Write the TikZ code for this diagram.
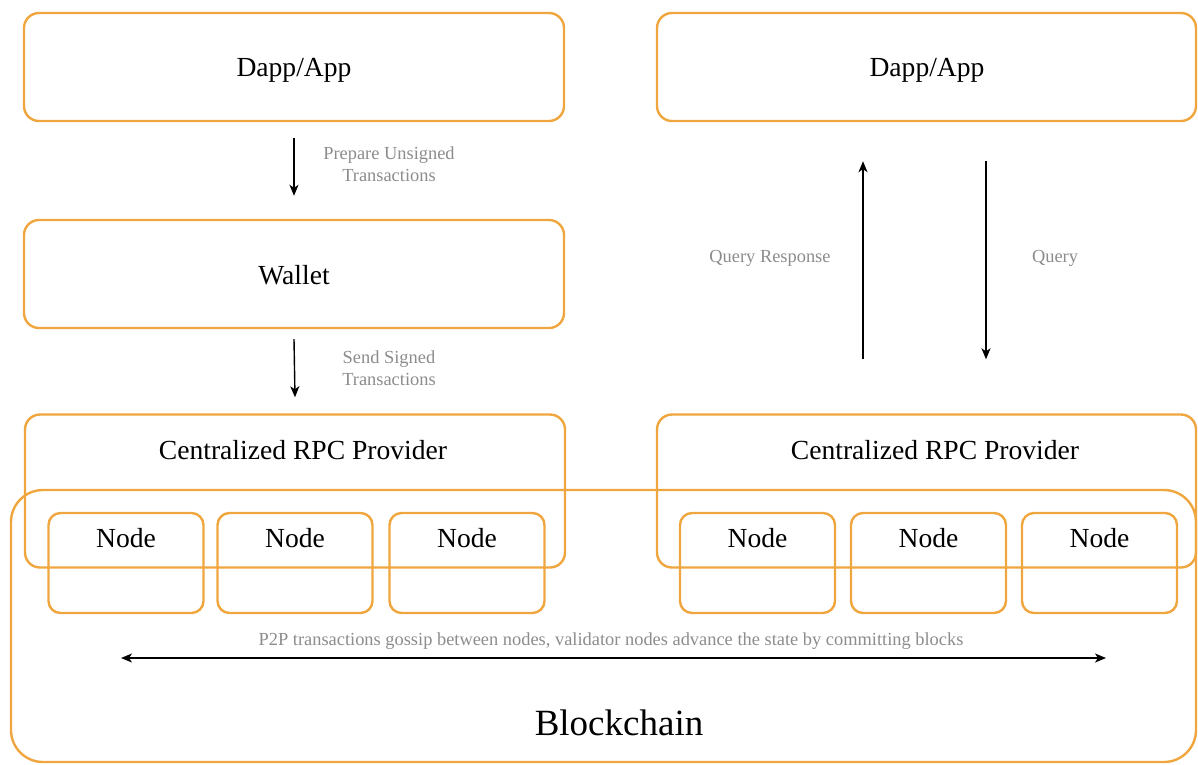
\documentclass[tikz,border=0pt]{standalone}
\usepackage{fontspec}
\setmainfont{Liberation Serif}
\usepackage{xcolor}
\usetikzlibrary{arrows.meta,positioning,calc}
\definecolor{boxorange}{RGB}{240,166,62}
\definecolor{labelgray}{RGB}{140,140,140}

\begin{document}
\begin{tikzpicture}[
    x=1pt, y=-1pt,
    >={Stealth[length=11pt,width=9pt,inset=3pt]},
    box/.style={draw=boxorange, line width=2.4pt, rounded corners=15pt, inner sep=0pt},
    nodebox/.style={draw=boxorange, line width=2.4pt, rounded corners=12pt, inner sep=0pt, minimum width=155pt, minimum height=100pt},
    boxtext/.style={font=\fontsize{27.6}{32}\selectfont},
    note/.style={font=\fontsize{18.4}{22.5}\selectfont, text=labelgray, align=center},
    flow/.style={line width=1.4pt, ->}
]
\useasboundingbox (0,0) rectangle (1198,764);

% left column
\node[box, minimum width=540pt, minimum height=108pt] (dappL) at (294,67) {};
\node[boxtext] (dappLtxt) at (294,70) {Dapp/App};
\node[box, minimum width=540pt, minimum height=108pt] (wallet) at (294,274) {};
\node[boxtext] (wallettxt) at (294,275) {Wallet};
\node[box, minimum width=540pt, minimum height=153pt] (rpcL) at (295,491) {};
\node[boxtext] (rpcLtxt) at (303,450) {Centralized RPC Provider};

% right column
\node[box, minimum width=539pt, minimum height=108pt] (dappR) at (926.5,67) {};
\node[boxtext] (dappRtxt) at (927,70) {Dapp/App};
\node[box, minimum width=539pt, minimum height=153pt] (rpcR) at (926.5,491) {};
\node[boxtext] (rpcRtxt) at (935,450) {Centralized RPC Provider};

% blockchain
\node[box, rounded corners=32pt, minimum width=1185pt, minimum height=272pt] (chain) at (603.5,626) {};
\node[font=\fontsize{37}{42}\selectfont] (chaintxt) at (619,723) {Blockchain};

% nodes
\foreach \name/\x in {n1/126, n2/295, n3/467, n4/757.5, n5/928.5, n6/1099.5} {
    \node[nodebox] (\name) at (\x,563) {};
    \node[boxtext] (\name txt) at (\x,538) {Node};
}

% transactions
\draw[flow] ([yshift=-16pt]dappL.south) -- ([yshift=23pt]wallet.north);
\node[note] (prep) at (389,164) {Prepare Unsigned\\Transactions};
\draw[flow] ([yshift=-10pt]wallet.south) -- ([yshift=16pt]rpcL.north);
\node[note] (send) at (389,368) {Send Signed\\Transactions};

% queries
\draw[flow] ([xshift=-63.5pt,yshift=54pt]rpcR.north) -- ([xshift=-63.5pt,yshift=-39pt]dappR.south);
\node[note] (resp) at (770,258) {Query Response};
\draw[flow] ([xshift=59.5pt,yshift=-39pt]dappR.south) -- ([xshift=59.5pt,yshift=54pt]rpcR.north);
\node[note] (query) at (1055,258) {Query};

% gossip
\coordinate (p2pL) at (121,658);
\coordinate (p2pR) at (1106,658);
\draw[line width=1.4pt, <->] (p2pL) -- (p2pR);
\node[note] (gossip) at (611,641) {P2P transactions gossip between nodes, validator nodes advance the state by committing blocks};

\end{tikzpicture}
\end{document}
